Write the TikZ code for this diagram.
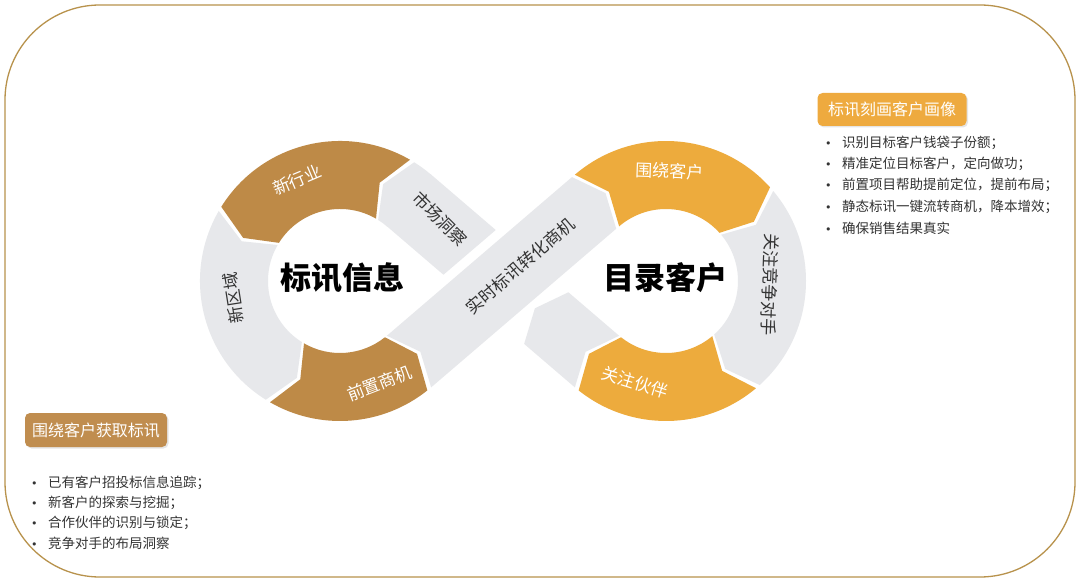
\documentclass[tikz,border=0pt]{standalone}
\usepackage{fontspec}
\setmainfont{Noto Sans CJK SC}
\newfontfamily\dotfont{DejaVu Sans}
\usetikzlibrary{calc,shadows}

\definecolor{frameGold}{HTML}{B8924C}
\definecolor{segBrown}{HTML}{BE8A47}
\definecolor{segOrange}{HTML}{EDAB3D}
\definecolor{segGrey}{HTML}{E7E8EB}
\definecolor{tagBrown}{HTML}{C08D4F}
\definecolor{tagOrange}{HTML}{EEAA3F}
\definecolor{listText}{HTML}{333333}

\def\ringIn{72pt}
\def\ringMid{106pt}
\def\ringOut{140pt}

% ring segment: centre, tail angle, head angle, notch depth, colour
\newcommand{\ringseg}[5]{%
  \fill[#5] ($(#1)+(#2:\ringOut)$) arc[start angle=#2, end angle=#3, radius=\ringOut]
    -- ($(#1)+({#3+#4}:\ringMid)$) -- ($(#1)+(#3:\ringIn)$)
    arc[start angle=#3, end angle=#2, radius=\ringIn]
    -- ($(#1)+({#2+#4}:\ringMid)$) -- cycle;}
\newcommand{\bul}{\makebox[17pt][l]{{\dotfont\fontsize{11}{11}\selectfont •}}}

\tikzset{
  frame/.style={draw=frameGold, line width=1.3pt, rounded corners=95pt},
  whiteLabel/.style={text=white, inner sep=0pt, font=\fontsize{17}{17}\selectfont},
  greyLabel/.style={text=listText, inner sep=0pt, font=\fontsize{17}{17}\selectfont},
  mainLabel/.style={text=black, inner sep=0pt, font=\fontsize{31}{31}\selectfont\bfseries},
  tag/.style={rounded corners=5pt, text=white, inner sep=0pt, font=\fontsize{16}{16}\selectfont,
    drop shadow={opacity=0.2, shadow xshift=1.5pt, shadow yshift=-1.5pt}},
  item/.style={anchor=west, inner sep=0pt, text=listText, font=\fontsize{13.5}{16}\selectfont}
}

\begin{document}
\begin{tikzpicture}[x=1pt, y=1pt]

  \useasboundingbox (0,0) rectangle (1080,582);
  \fill[white] (0,0) rectangle (1080,582);
  \draw[frame] (5,5) rectangle (1075,577);

  \coordinate (L) at (340,301);
  \coordinate (R) at (666,301);
  \coordinate (M) at (503,301);

  %crossing bands
  \begin{scope}[shift={(M)}, rotate=139.4]
    \fill[segGrey] (-123.8,34) -- (-57,34) -- (-42,0) -- (-57,-34) -- (-123.8,-34) -- (-108.8,0) -- cycle;
    \fill[segGrey] (49.3,34) -- (124.5,34) -- (124.5,-34) -- (38.7,-34) -- cycle;
    \node[greyLabel, rotate=-45] (scdc) at (88,-6) {市场洞察};
  \end{scope}
  \fill[segGrey] ($(L)+(49.4:\ringOut)$) arc[start angle=49.4, end angle=58, radius=\ringOut]
    -- ($(L)+(66:\ringMid)$) -- ($(L)+(58:\ringIn)$)
    arc[start angle=58, end angle=49.4, radius=\ringIn] -- cycle;

  \begin{scope}[shift={(M)}, rotate=40.6]
    \fill[segGrey] (-123.8,34) -- (120,34) -- (135,0) -- (120,-34) -- (-123.8,-34) -- (-108.8,0) -- cycle;
    \node[greyLabel, rotate=40.6] (zhsj) at (23,0) {实时标讯转化商机};
  \end{scope}

  %left ring
  \ringseg{L}{150}{238}{8}{segGrey}
  \ringseg{L}{60}{148}{8}{segBrown}
  \ringseg{L}{240}{308.6}{8}{segBrown}
  \node[whiteLabel, rotate=23] (xhy) at ($(L)+(113:110pt)$) {新行业};
  \node[greyLabel, rotate=99] (xqy) at ($(L)+(189:108pt)$) {新区域};
  \node[whiteLabel, rotate=21] (qzsj) at ($(L)+(291:110pt)$) {前置商机};
  \node[mainLabel] (info) at (342,304) {标讯信息};

  %right ring
  \ringseg{R}{40}{-48}{-8}{segGrey}
  \ringseg{R}{130.6}{42}{-8}{segOrange}
  \ringseg{R}{-50}{-128.6}{-8}{segOrange}
  \node[whiteLabel, rotate=-2] (wrkh) at ($(R)+(88:110pt)$) {围绕客户};
  \node[greyLabel, rotate=-92] (jzds) at ($(R)+(-2:104pt)$) {关注竞争对手};
  \node[whiteLabel, rotate=-17] (gzhb) at ($(R)+(253:106pt)$) {关注伙伴};
  \node[mainLabel] (client) at (665,304) {目录客户};

  %right list
  \node[tag, fill=tagOrange, minimum width=149pt, minimum height=33pt] (rtag) at (892,472.5) {标讯刻画客户画像};
  \node[item] (r1) at (825,439) {\bul 识别目标客户钱袋子份额；};
  \node[item] (r2) at (825,418) {\bul 精准定位目标客户，定向做功；};
  \node[item] (r3) at (825,397) {\bul 前置项目帮助提前定位，提前布局；};
  \node[item] (r4) at (825,375.5) {\bul 静态标讯一键流转商机，降本增效；};
  \node[item] (r5) at (825,354) {\bul 确保销售结果真实};

  %left list
  \node[tag, fill=tagBrown, minimum width=142pt, minimum height=34pt] (ltag) at (96,152) {围绕客户获取标讯};
  \node[item] (l1) at (31,99) {\bul 已有客户招投标信息追踪；};
  \node[item] (l2) at (31,79) {\bul 新客户的探索与挖掘；};
  \node[item] (l3) at (31,59) {\bul 合作伙伴的识别与锁定；};
  \node[item] (l4) at (31,39) {\bul 竞争对手的布局洞察};

\end{tikzpicture}
\end{document}
